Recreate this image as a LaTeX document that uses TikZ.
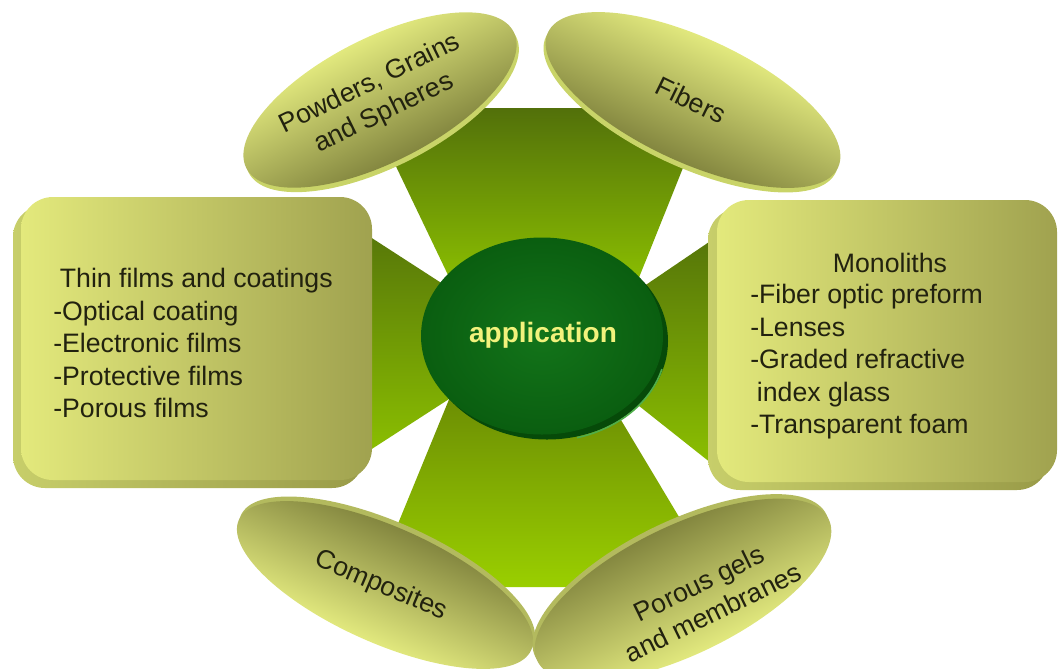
\documentclass[tikz,border=0pt]{standalone}
\usepackage{fontspec}
\setmainfont{Liberation Sans}
\definecolor{trapTop}{HTML}{52700A}
\definecolor{trapBot}{HTML}{90C600}
\definecolor{trapBTop}{HTML}{688804}
\definecolor{trapBBot}{HTML}{9ACF00}
\definecolor{faceL}{HTML}{E3E97C}
\definecolor{faceR}{HTML}{A0A24F}
\definecolor{rimL}{HTML}{C7CE6A}
\definecolor{rimR}{HTML}{999B48}
\definecolor{elLight}{HTML}{E2E97E}
\definecolor{elDark}{HTML}{83863F}
\definecolor{elRimA}{HTML}{C9D468}
\definecolor{elRimB}{HTML}{B3BA5E}
\definecolor{discIn}{HTML}{13741A}
\definecolor{discOut}{HTML}{0A5E10}
\definecolor{discRim}{HTML}{064A09}
\definecolor{discHi}{HTML}{4FAE4A}
\definecolor{appC}{HTML}{F2F27C}
\definecolor{txtC}{HTML}{22220F}
\begin{document}
\begin{tikzpicture}[x=0.75pt,y=-0.75pt,
  trapz/.style={top color=trapTop,bottom color=trapBot},
  trapzb/.style={top color=trapBTop,bottom color=trapBBot},
  boxrim/.style={left color=rimL,right color=rimR,rounded corners=24pt},
  boxface/.style={left color=faceL,right color=faceR,rounded corners=24pt},
  lightup/.style={top color=elLight,bottom color=elDark},
  darkup/.style={top color=elDark,bottom color=elLight},
  txt/.style={text=txtC,font=\fontsize{20}{24.4}\selectfont,inner sep=0pt},
  apptxt/.style={text=appC,font=\fontsize{21}{25}\selectfont\bfseries,inner sep=0pt}]
\useasboundingbox (0,0) rectangle (1060,668);
% trapezoids (X behind)
\shade[trapz] (368,108) -- (707,108) -- (630,300) -- (460,300) -- cycle;
\shade[trapzb] (457,380) -- (597,380) -- (721,587) -- (372,587) -- cycle;
\shade[trapz] (330,211) -- (480,308) -- (480,379) -- (330,476) -- cycle;
\shade[trapz] (740,221) -- (600,316) -- (600,375) -- (740,486) -- cycle;
% left box
\shade[boxrim] (13,205) rectangle (364,488);
\shade[boxface] (21,197) rectangle (372,480);
% right box
\shade[boxrim] (708,208) rectangle (1049,490);
\shade[boxface] (717,200) rectangle (1057,482);
% central disc
\fill[discRim] (547,341) ellipse [x radius=121,y radius=98.5];
\draw[discHi,line width=1.2pt] (546,338) ++(15:120) arc[start angle=15,end angle=75,x radius=120,y radius=97];
\shade[inner color=discIn,outer color=discOut] (542,336) ellipse [x radius=121,y radius=98.5];
\node[apptxt] (app) at (543,335) {application};
% ellipses
\begin{scope}[transform canvas={rotate around={27:(380,100)}}]
\fill[elRimA] (380,105) ellipse [x radius=150,y radius=62];
\shade[lightup] (380,100) ellipse [x radius=150,y radius=62];
\end{scope}
\begin{scope}[transform canvas={rotate around={-25:(693,100)}}]
\fill[elRimA] (693,105) ellipse [x radius=160,y radius=62];
\shade[lightup] (693,100) ellipse [x radius=160,y radius=62];
\end{scope}
\begin{scope}[transform canvas={rotate around={-24:(385,585)}}]
\fill[elRimB] (385,580) ellipse [x radius=160,y radius=58];
\shade[darkup] (385,585) ellipse [x radius=160,y radius=58];
\end{scope}
\begin{scope}[transform canvas={rotate around={26:(683,590)}}]
\fill[elRimB] (683,585) ellipse [x radius=162,y radius=64];
\shade[darkup] (683,590) ellipse [x radius=162,y radius=64];
\end{scope}
% ellipse labels
\node[txt,align=center,rotate=26] (pow) at (377,99) {Powders, Grains\\and Spheres};
\node[txt,rotate=-26] (fib) at (691,100) {Fibers};
\node[txt,rotate=-23] (comp) at (381,586) {Composites};
\node[txt,align=center,rotate=26] (por) at (706,598) {Porous gels\\and membranes};
% box texts
\node[txt,align=left,anchor=west] (thin) at (53,343) {\hspace*{5pt}Thin films and coatings\\-Optical coating\\-Electronic films\\-Protective films\\-Porous films};
\node[txt] (mono) at (890,263) {Monoliths};
\node[txt,align=left,anchor=west] (monolist) at (750,362) {-Fiber optic preform\\-Lenses\\-Graded refractive\\\hspace*{5pt}index glass\\-Transparent foam};
\end{tikzpicture}
\end{document}
